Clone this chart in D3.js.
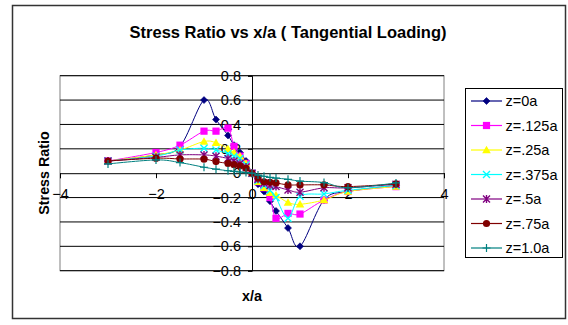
<!DOCTYPE html>
<html>
<head>
<meta charset="utf-8">
<script src="https://cdn.jsdelivr.net/npm/d3@7"></script>
<style>
  html, body { margin: 0; padding: 0; background: #fff; }
  svg { display: block; font-family: "Liberation Sans", Arial, sans-serif; }
</style>
</head>
<body>
<svg id="chart" width="568" height="325"></svg>
<script>
// x/a positions where the stress ratio was sampled
const xValues = [-3, -2, -1.5, -1, -0.75, -0.5, -0.375, -0.25, -0.125, 0,
                 0.125, 0.25, 0.375, 0.5, 0.75, 1, 1.5, 2, 3];

// Stress ratio for each depth z
const z0a   = [0.10, 0.15, 0.22, 0.60, 0.44, 0.31, 0.23, 0.17, 0.10, 0,
               -0.09, -0.15, -0.23, -0.31, -0.45, -0.60, -0.22, -0.15, -0.10];
const z125a = [0.10, 0.17, 0.23, 0.345, 0.345, 0.37, 0.22, 0.14, 0.08, 0,
               -0.07, -0.12, -0.20, -0.37, -0.33, -0.335, -0.22, -0.15, -0.11];
const z25a  = [0.10, 0.15, 0.19, 0.26, 0.25, 0.20, 0.17, 0.14, 0.08, 0,
               -0.07, -0.12, -0.16, -0.18, -0.24, -0.255, -0.22, -0.15, -0.11];
const z375a = [0.10, 0.14, 0.19, 0.205, 0.19, 0.16, 0.14, 0.12, 0.07, 0,
               -0.06, -0.10, -0.14, -0.20, -0.37, -0.19, -0.17, -0.14, -0.10];
const z5a   = [0.10, 0.13, 0.15, 0.15, 0.14, 0.12, 0.10, 0.08, 0.05, 0,
               -0.05, -0.08, -0.10, -0.11, -0.137, -0.156, -0.12, -0.12, -0.09];
const z75a  = [0.10, 0.123, 0.117, 0.115, 0.095, 0.08, 0.07, 0.06, 0.04, 0,
               -0.04, -0.07, -0.075, -0.08, -0.096, -0.096, -0.096, -0.11, -0.088];
const z10a  = [0.076, 0.109, 0.087, 0.049, 0.033, 0.02, 0.015, 0.01, 0.005, 0,
               -0.015, -0.025, -0.035, -0.04, -0.05, -0.065, -0.077, -0.12, -0.08];

const seriesNames  = ["z=0a", "z=.125a", "z=.25a", "z=.375a", "z=.5a", "z=.75a", "z=1.0a"];
const seriesValues = [z0a, z125a, z25a, z375a, z5a, z75a, z10a];
const seriesColors = ["#000080", "#FF00FF", "#FFFF00", "#00FFFF", "#800080", "#800000", "#008080"];
const seriesMarks  = ["diamond", "square", "triangle", "cross", "star", "circle", "plus"];

const xTicks = [-4, -2, 0, 2, 4];
const yTicks = [-0.8, -0.6, -0.4, -0.2, 0, 0.2, 0.4, 0.6, 0.8];

const svg = d3.select("#chart");

// outer chart frame
svg.append("rect")
  .attr("x", 12.5).attr("y", 5.5).attr("width", 553).attr("height", 313)
  .attr("fill", "#fff").attr("stroke", "#333").attr("stroke-width", 1.5);

const plot = { left: 60, right: 444, top: 75.7, bottom: 270.7 };
const x = d3.scaleLinear().domain([-4, 4]).range([plot.left, plot.right]);
const y = d3.scaleLinear().domain([-0.8, 0.8]).range([plot.bottom, plot.top]);

// plot area border
svg.append("rect")
  .attr("x", plot.left).attr("y", plot.top)
  .attr("width", plot.right - plot.left).attr("height", plot.bottom - plot.top)
  .attr("fill", "none").attr("stroke", "#808080").attr("stroke-width", 1);

// horizontal gridlines
svg.append("g").selectAll("line").data(yTicks.filter(d => d !== 0)).join("line")
  .attr("x1", plot.left).attr("x2", plot.right)
  .attr("y1", d => y(d)).attr("y2", d => y(d))
  .attr("stroke", "#000").attr("stroke-width", 1);

const tickFont = 14.5;

// x axis through y = 0
const xAxis = d3.axisBottom(x).tickValues(xTicks).tickSize(5).tickPadding(11)
  .tickFormat(d3.format("d"));
const gx = svg.append("g").attr("transform", `translate(0,${y(0)})`).call(xAxis);
gx.select(".domain").attr("stroke", "#000");
gx.selectAll(".tick line").attr("stroke", "#000");
gx.selectAll(".tick text").attr("font-size", tickFont).attr("fill", "#000")
  .attr("font-family", "Liberation Sans, Arial, sans-serif");

// y axis through x = 0
const yAxis = d3.axisLeft(y).tickValues(yTicks).tickSize(4).tickPadding(7)
  .tickFormat(d => d === 0 ? "0" : d3.format(".1f")(d));
const gy = svg.append("g").attr("transform", `translate(${x(0)},0)`).call(yAxis);
gy.select(".domain").attr("stroke", "#000");
gy.selectAll(".tick line").attr("stroke", "#000");
gy.selectAll(".tick text").attr("font-size", tickFont).attr("fill", "#000")
  .attr("font-family", "Liberation Sans, Arial, sans-serif");

// marker shapes
function drawMark(g, type, color, cx, cy) {
  const s = 3.5;
  if (type === "diamond") {
    g.append("path").attr("d", `M${cx},${cy - s}L${cx + s},${cy}L${cx},${cy + s}L${cx - s},${cy}Z`)
      .attr("fill", color).attr("stroke", color).attr("stroke-width", 0.6);
  } else if (type === "square") {
    g.append("rect").attr("x", cx - 3.6).attr("y", cy - 3.6).attr("width", 7.2).attr("height", 7.2)
      .attr("fill", color);
  } else if (type === "triangle") {
    g.append("path").attr("d", `M${cx},${cy - 4.2}L${cx + 4.3},${cy + 3.2}L${cx - 4.3},${cy + 3.2}Z`)
      .attr("fill", color);
  } else if (type === "cross") {
    g.append("path").attr("d", `M${cx - 3.5},${cy - 3.5}L${cx + 3.5},${cy + 3.5}M${cx - 3.5},${cy + 3.5}L${cx + 3.5},${cy - 3.5}`)
      .attr("stroke", color).attr("stroke-width", 1.4);
  } else if (type === "star") {
    g.append("path").attr("d", `M${cx - 3.5},${cy - 3.5}L${cx + 3.5},${cy + 3.5}M${cx - 3.5},${cy + 3.5}L${cx + 3.5},${cy - 3.5}M${cx},${cy - 4}L${cx},${cy + 4}`)
      .attr("stroke", color).attr("stroke-width", 1.4);
  } else if (type === "circle") {
    g.append("circle").attr("cx", cx).attr("cy", cy).attr("r", 3.6).attr("fill", color);
  } else if (type === "plus") {
    g.append("path").attr("d", `M${cx - 4},${cy}L${cx + 4},${cy}M${cx},${cy - 4}L${cx},${cy + 4}`)
      .attr("stroke", color).attr("stroke-width", 1.2);
  }
}

const line = d3.line().x(d => x(d[0])).y(d => y(d[1])).curve(d3.curveCatmullRom.alpha(0));

seriesValues.forEach((vals, i) => {
  const pts = xValues.map((xv, j) => [xv, vals[j]]);
  const g = svg.append("g");
  g.append("path").datum(pts).attr("d", line)
    .attr("fill", "none").attr("stroke", seriesColors[i]).attr("stroke-width", 1);
  pts.forEach(p => drawMark(g, seriesMarks[i], seriesColors[i], x(p[0]), y(p[1])));
});

// title
svg.append("text").attr("x", 288).attr("y", 38).attr("text-anchor", "middle")
  .attr("font-size", 16.5).attr("font-weight", "bold").text("Stress Ratio vs x/a ( Tangential Loading)");

// axis titles
svg.append("text").attr("x", 252).attr("y", 301).attr("text-anchor", "middle")
  .attr("font-size", 14.3).attr("font-weight", "bold").text("x/a");
svg.append("text").attr("transform", "translate(49,173) rotate(-90)").attr("text-anchor", "middle")
  .attr("font-size", 14.3).attr("font-weight", "bold").text("Stress Ratio");

// legend
const legend = svg.append("g");
legend.append("rect").attr("x", 465.5).attr("y", 88.5).attr("width", 97).attr("height", 169)
  .attr("fill", "#fff").attr("stroke", "#000").attr("stroke-width", 1);
seriesNames.forEach((name, i) => {
  const ly = 101 + i * 24.5;
  legend.append("line").attr("x1", 471).attr("x2", 502).attr("y1", ly).attr("y2", ly)
    .attr("stroke", seriesColors[i]).attr("stroke-width", 1.2);
  drawMark(legend, seriesMarks[i], seriesColors[i], 486.5, ly);
  legend.append("text").attr("x", 505.5).attr("y", ly + 5).attr("font-size", 14.5).text(name);
});
</script>
</body>
</html>
